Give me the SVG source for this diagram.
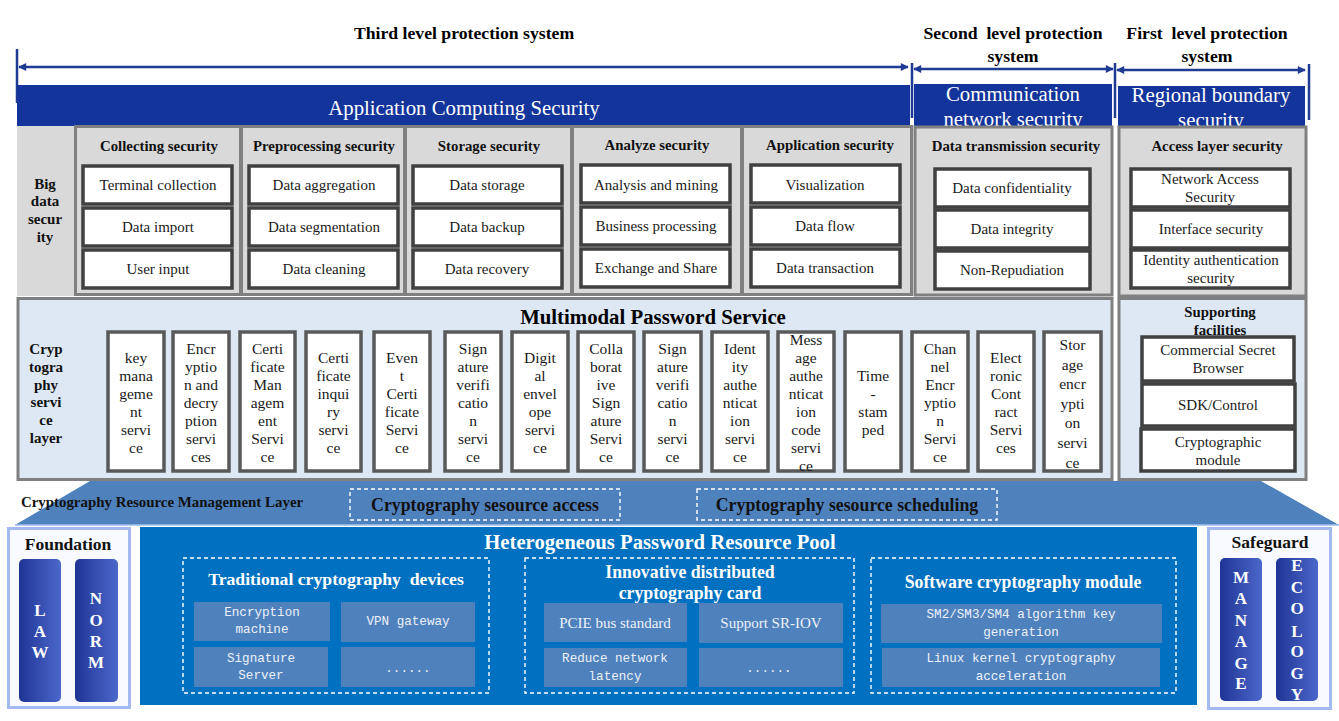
<svg xmlns="http://www.w3.org/2000/svg" width="1339" height="721" viewBox="0 0 1339 721">
<style>
text{font-family:"Liberation Serif","Times New Roman",serif;dominant-baseline:central;text-anchor:middle}
.hdr{font-size:17.7px;font-weight:bold;fill:#000}
.ban{font-size:20.8px;fill:#fff}
.cat{font-size:14.8px;font-weight:bold;fill:#111}
.lab{font-size:15px;font-weight:bold;fill:#111}
.panel{fill:#D9D9D9;stroke:#808080;stroke-width:3}
.cpanel{fill:#DEE8F4;stroke:#808080;stroke-width:3}
.box{fill:#fff;stroke:#404040;stroke-width:3.5}
.lbl{font-size:15px;fill:#1a1a1a}
.vbox{fill:#fff;stroke:#595959;stroke-width:3.5}
.vt{font-size:15.5px;fill:#1a1a1a}
.dash{fill:none;stroke:#fff;stroke-width:1.4;stroke-dasharray:4 3}
.sub{fill:#4F81BD}
.mono{font-family:"Liberation Mono","DejaVu Sans Mono",monospace;font-size:12.6px;fill:#EDF2FA}
.sv{font-size:15px;fill:#EDF2FA}
.wt{font-weight:bold;fill:#fff}
.pil{font-size:17px;font-weight:bold;fill:#fff}
.arr{stroke:#1F3A93;stroke-width:2.5;fill:none}
</style>
<defs>
<marker id="ah" viewBox="0 0 10 10" refX="9" refY="5" markerWidth="9" markerHeight="8" markerUnits="userSpaceOnUse" orient="auto-start-reverse">
<path d="M0,0 L10,5 L0,10 z" fill="#1F3A93"/>
</marker>
<linearGradient id="pg" x1="0" y1="0" x2="1" y2="0">
<stop offset="0" stop-color="#1F3596"/>
<stop offset="1" stop-color="#4B67CA"/>
</linearGradient>
</defs>
<rect width="1339" height="721" fill="#fff"/>

<g id="titles">
<text class="hdr" x="464" y="33">Third level protection system</text>
<text class="hdr" x="1013" y="33" xml:space="preserve">Second  level protection</text>
<text class="hdr" x="1013" y="56">system</text>
<text class="hdr" x="1207" y="33" xml:space="preserve">First  level protection</text>
<text class="hdr" x="1207" y="56">system</text>
</g>

<g id="connectors">
<line class="arr" x1="17" y1="49" x2="17" y2="103"/>
<line class="arr" x1="19" y1="67" x2="908" y2="67" marker-start="url(#ah)" marker-end="url(#ah)"/>
<line class="arr" x1="912" y1="63" x2="912" y2="118"/>
<line class="arr" x1="914" y1="69" x2="1113" y2="69" marker-start="url(#ah)" marker-end="url(#ah)"/>
<line class="arr" x1="1115" y1="63" x2="1115" y2="118"/>
<line class="arr" x1="1117" y1="70" x2="1305" y2="70" marker-start="url(#ah)" marker-end="url(#ah)"/>
<line class="arr" x1="1309" y1="64" x2="1309" y2="120"/>
</g>

<g id="banners">
<rect x="17" y="85" width="893" height="41" fill="#13349A"/>
<text class="ban" x="464" y="107">Application Computing Security</text>
<rect x="914" y="84" width="198" height="43" fill="#13349A"/>
<text class="ban" x="1013" y="93">Communication</text>
<text class="ban" x="1013" y="118">network security</text>
<rect x="1118" y="86" width="187" height="41" fill="#13349A"/>
<text class="ban" x="1211" y="94">Regional boundary</text>
<text class="ban" x="1211" y="119">security</text>
</g>

<g id="big-data-security">
<rect x="17" y="126" width="60" height="170" fill="#D9D9D9"/>
<text class="lab"><tspan x="45" y="184">Big</tspan><tspan x="45" y="201">data</tspan><tspan x="45" y="219">secur</tspan><tspan x="45" y="237">ity</tspan></text>
</g>

<g id="collecting">
<rect class="panel" x="75.5" y="126.5" width="165" height="168"/>
<text class="cat" x="159" y="146">Collecting security</text>
<rect class="box" x="83" y="166" width="149" height="38"/><text class="lbl" x="158" y="185">Terminal collection</text>
<rect class="box" x="83" y="208" width="149" height="38"/><text class="lbl" x="158" y="227">Data import</text>
<rect class="box" x="83" y="250" width="149" height="38"/><text class="lbl" x="158" y="269">User input</text>
</g>

<g id="preprocessing">
<rect class="panel" x="241.5" y="126.5" width="163" height="168"/>
<text class="cat" x="324" y="146">Preprocessing security</text>
<rect class="box" x="249" y="166" width="149" height="38"/><text class="lbl" x="324" y="185">Data aggregation</text>
<rect class="box" x="249" y="208" width="149" height="38"/><text class="lbl" x="324" y="227">Data segmentation</text>
<rect class="box" x="249" y="250" width="149" height="38"/><text class="lbl" x="324" y="269">Data cleaning</text>
</g>

<g id="storage">
<rect class="panel" x="405.5" y="126.5" width="166" height="168"/>
<text class="cat" x="489" y="146">Storage security</text>
<rect class="box" x="413" y="166" width="149" height="38"/><text class="lbl" x="487" y="185">Data storage</text>
<rect class="box" x="413" y="208" width="149" height="38"/><text class="lbl" x="487" y="227">Data backup</text>
<rect class="box" x="413" y="250" width="149" height="38"/><text class="lbl" x="487" y="269">Data recovery</text>
</g>

<g id="analyze">
<rect class="panel" x="572.5" y="126.5" width="169" height="168"/>
<text class="cat" x="657" y="145">Analyze security</text>
<rect class="box" x="581" y="165" width="149" height="38"/><text class="lbl" x="656" y="185">Analysis and mining</text>
<rect class="box" x="581" y="207" width="149" height="38"/><text class="lbl" x="656" y="226">Business processing</text>
<rect class="box" x="581" y="249" width="149" height="38"/><text class="lbl" x="656" y="268">Exchange and Share</text>
</g>

<g id="application">
<rect class="panel" x="742.5" y="126.5" width="169" height="168"/>
<text class="cat" x="830" y="145">Application security</text>
<rect class="box" x="751" y="165" width="149" height="38"/><text class="lbl" x="825" y="185">Visualization</text>
<rect class="box" x="751" y="207" width="149" height="38"/><text class="lbl" x="825" y="226">Data flow</text>
<rect class="box" x="751" y="249" width="149" height="38"/><text class="lbl" x="825" y="268">Data transaction</text>
</g>

<g id="data-transmission">
<rect class="panel" x="915" y="127" width="197" height="168"/>
<text class="cat" x="1016" y="146">Data transmission security</text>
<rect class="box" x="935" y="169" width="155" height="38"/><text class="lbl" x="1012" y="188">Data confidentiality</text>
<rect class="box" x="935" y="210" width="155" height="38"/><text class="lbl" x="1012" y="229">Data integrity</text>
<rect class="box" x="935" y="251" width="155" height="38"/><text class="lbl" x="1012" y="270">Non-Repudiation</text>
</g>

<g id="access-layer">
<rect class="panel" x="1119" y="127" width="187" height="169"/>
<text class="cat" x="1217" y="146">Access layer security</text>
<rect class="box" x="1131" y="169" width="159" height="38"/><text class="lbl"><tspan x="1210" y="179">Network Access</tspan><tspan x="1210" y="197">Security</tspan></text>
<rect class="box" x="1131" y="210" width="159" height="38"/><text class="lbl" x="1211" y="229">Interface security</text>
<rect class="box" x="1131" y="250" width="159" height="38"/><text class="lbl"><tspan x="1211" y="260">Identity authentication</tspan><tspan x="1211" y="278">security</tspan></text>
</g>

<g id="crypto-service-layer">
<rect class="cpanel" x="18" y="298.5" width="1094" height="181"/>
<text class="lab"><tspan x="46" y="349">Cryp</tspan><tspan x="46" y="367">togra</tspan><tspan x="46" y="385">phy</tspan><tspan x="46" y="402">servi</tspan><tspan x="46" y="420">ce</tspan><tspan x="46" y="438">layer</tspan></text>
<text x="653" y="316" style="font-size:20.8px;font-weight:bold;fill:#000">Multimodal Password Service</text>
</g>

<g id="svc-key"><rect class="vbox" x="108" y="332" width="56" height="139"/>
<text class="vt"><tspan x="136" y="357">key</tspan><tspan x="136" dy="18">mana</tspan><tspan x="136" dy="18">geme</tspan><tspan x="136" dy="18">nt</tspan><tspan x="136" dy="18">servi</tspan><tspan x="136" dy="18">ce</tspan></text></g>
<g id="svc-encdec"><rect class="vbox" x="173" y="332" width="56" height="139"/>
<text class="vt"><tspan x="201" y="348">Encr</tspan><tspan x="201" dy="18">yptio</tspan><tspan x="201" dy="18">n and</tspan><tspan x="201" dy="18">decry</tspan><tspan x="201" dy="18">ption</tspan><tspan x="201" dy="18">servi</tspan><tspan x="201" dy="18">ces</tspan></text></g>
<g id="svc-certmgmt"><rect class="vbox" x="240" y="332" width="55" height="139"/>
<text class="vt"><tspan x="267.5" y="348">Certi</tspan><tspan x="267.5" dy="18">ficate</tspan><tspan x="267.5" dy="18">Man</tspan><tspan x="267.5" dy="18">agem</tspan><tspan x="267.5" dy="18">ent</tspan><tspan x="267.5" dy="18">Servi</tspan><tspan x="267.5" dy="18">ce</tspan></text></g>
<g id="svc-certinq"><rect class="vbox" x="306" y="332" width="55" height="139"/>
<text class="vt"><tspan x="333.5" y="357">Certi</tspan><tspan x="333.5" dy="18">ficate</tspan><tspan x="333.5" dy="18">inqui</tspan><tspan x="333.5" dy="18">ry</tspan><tspan x="333.5" dy="18">servi</tspan><tspan x="333.5" dy="18">ce</tspan></text></g>
<g id="svc-event"><rect class="vbox" x="374" y="332" width="56" height="139"/>
<text class="vt"><tspan x="402" y="357">Even</tspan><tspan x="402" dy="18">t</tspan><tspan x="402" dy="18">Certi</tspan><tspan x="402" dy="18">ficate</tspan><tspan x="402" dy="18">Servi</tspan><tspan x="402" dy="18">ce</tspan></text></g>
<g id="svc-sigver1"><rect class="vbox" x="445" y="332" width="56" height="139"/>
<text class="vt"><tspan x="473" y="348">Sign</tspan><tspan x="473" dy="18">ature</tspan><tspan x="473" dy="18">verifi</tspan><tspan x="473" dy="18">catio</tspan><tspan x="473" dy="18">n</tspan><tspan x="473" dy="18">servi</tspan><tspan x="473" dy="18">ce</tspan></text></g>
<g id="svc-envelope"><rect class="vbox" x="512" y="332" width="56" height="139"/>
<text class="vt"><tspan x="540" y="357">Digit</tspan><tspan x="540" dy="18">al</tspan><tspan x="540" dy="18">envel</tspan><tspan x="540" dy="18">ope</tspan><tspan x="540" dy="18">servi</tspan><tspan x="540" dy="18">ce</tspan></text></g>
<g id="svc-collab"><rect class="vbox" x="578" y="332" width="56" height="139"/>
<text class="vt"><tspan x="606" y="348">Colla</tspan><tspan x="606" dy="18">borat</tspan><tspan x="606" dy="18">ive</tspan><tspan x="606" dy="18">Sign</tspan><tspan x="606" dy="18">ature</tspan><tspan x="606" dy="18">Servi</tspan><tspan x="606" dy="18">ce</tspan></text></g>
<g id="svc-sigver2"><rect class="vbox" x="644" y="332" width="57" height="139"/>
<text class="vt"><tspan x="672.5" y="348">Sign</tspan><tspan x="672.5" dy="18">ature</tspan><tspan x="672.5" dy="18">verifi</tspan><tspan x="672.5" dy="18">catio</tspan><tspan x="672.5" dy="18">n</tspan><tspan x="672.5" dy="18">servi</tspan><tspan x="672.5" dy="18">ce</tspan></text></g>
<g id="svc-identity"><rect class="vbox" x="712" y="332" width="56" height="139"/>
<text class="vt"><tspan x="740" y="348">Ident</tspan><tspan x="740" dy="18">ity</tspan><tspan x="740" dy="18">authe</tspan><tspan x="740" dy="18">nticat</tspan><tspan x="740" dy="18">ion</tspan><tspan x="740" dy="18">servi</tspan><tspan x="740" dy="18">ce</tspan></text></g>
<g id="svc-mac"><rect class="vbox" x="778" y="332" width="56" height="139"/>
<text class="vt"><tspan x="806" y="339">Mess</tspan><tspan x="806" dy="18">age</tspan><tspan x="806" dy="18">authe</tspan><tspan x="806" dy="18">nticat</tspan><tspan x="806" dy="18">ion</tspan><tspan x="806" dy="18">code</tspan><tspan x="806" dy="18">servi</tspan><tspan x="806" dy="18">ce</tspan></text></g>
<g id="svc-timestamp"><rect class="vbox" x="845" y="332" width="56" height="139"/>
<text class="vt"><tspan x="873" y="375">Time</tspan><tspan x="873" dy="18">-</tspan><tspan x="873" dy="18">stam</tspan><tspan x="873" dy="18">ped</tspan></text></g>
<g id="svc-channel"><rect class="vbox" x="912" y="332" width="56" height="139"/>
<text class="vt"><tspan x="940" y="348">Chan</tspan><tspan x="940" dy="18">nel</tspan><tspan x="940" dy="18">Encr</tspan><tspan x="940" dy="18">yptio</tspan><tspan x="940" dy="18">n</tspan><tspan x="940" dy="18">Servi</tspan><tspan x="940" dy="18">ce</tspan></text></g>
<g id="svc-contract"><rect class="vbox" x="978" y="332" width="56" height="139"/>
<text class="vt"><tspan x="1006" y="357">Elect</tspan><tspan x="1006" dy="18">ronic</tspan><tspan x="1006" dy="18">Cont</tspan><tspan x="1006" dy="18">ract</tspan><tspan x="1006" dy="18">Servi</tspan><tspan x="1006" dy="18">ces</tspan></text></g>
<g id="svc-storage"><rect class="vbox" x="1044" y="332" width="57" height="139"/>
<text class="vt"><tspan x="1072.5" y="344">Stor</tspan><tspan x="1072.5" dy="19.6">age</tspan><tspan x="1072.5" dy="19.6">encr</tspan><tspan x="1072.5" dy="19.6">ypti</tspan><tspan x="1072.5" dy="19.6">on</tspan><tspan x="1072.5" dy="19.6">servi</tspan><tspan x="1072.5" dy="19.6">ce</tspan></text></g>

<g id="supporting-facilities">
<rect class="cpanel" x="1119" y="298.5" width="187" height="181"/>
<text class="cat"><tspan x="1220" y="312">Supporting</tspan><tspan x="1220" y="330">facilities</tspan></text>
<rect class="box" x="1142" y="337" width="152" height="44"/><text class="lbl"><tspan x="1218" y="350">Commercial Secret</tspan><tspan x="1218" y="368">Browser</tspan></text>
<rect class="box" x="1142" y="384" width="153" height="42"/><text class="lbl" x="1218" y="405">SDK/Control</text>
<rect class="box" x="1141" y="429" width="154" height="42"/><text class="lbl"><tspan x="1218" y="442">Cryptographic</tspan><tspan x="1218" y="460">module</tspan></text>
</g>

<g id="resource-management">
<polygon points="90,481 1261,481 1339,525 15,525" fill="#4F81BD"/>
<line x1="15" y1="525" x2="1339" y2="525" stroke="#9CC0EC" stroke-width="1.5"/>
<text x="162" y="502" style="font-size:14.9px;font-weight:bold;fill:#111">Cryptography Resource Management Layer</text>
<rect class="dash" x="350" y="489" width="270" height="31"/>
<text x="485" y="505" style="font-size:17.8px;font-weight:bold;fill:#111">Cryptography sesource access</text>
<rect class="dash" x="697" y="489" width="300" height="31"/>
<text x="847" y="505" style="font-size:17.8px;font-weight:bold;fill:#111">Cryptography sesource scheduling</text>
</g>

<g id="foundation">
<rect x="8.5" y="528.5" width="121" height="179" fill="#F8FAFF" stroke="#A3BAF0" stroke-width="3"/>
<text x="68" y="544" style="font-size:17.5px;font-weight:bold;fill:#111">Foundation</text>
<rect x="19" y="559" width="42" height="143" rx="5" fill="url(#pg)"/>
<text class="pil"><tspan x="40" y="610">L</tspan><tspan x="40" y="631">A</tspan><tspan x="40" y="652">W</tspan></text>
<rect x="75" y="559" width="43" height="143" rx="5" fill="url(#pg)"/>
<text class="pil"><tspan x="96" y="598">N</tspan><tspan x="96" y="620">O</tspan><tspan x="96" y="641">R</tspan><tspan x="96" y="662">M</tspan></text>
</g>

<g id="resource-pool">
<rect x="140" y="527" width="1057" height="178" fill="#0070C0"/>
<text class="wt" x="660" y="542" style="font-size:20.7px">Heterogeneous Password Resource Pool</text>
</g>

<g id="traditional-devices">
<rect class="dash" x="183" y="558" width="306" height="135"/>
<text class="wt" x="336" y="579" style="font-size:17.7px" xml:space="preserve">Traditional cryptography  devices</text>
<rect class="sub" x="194" y="602" width="136" height="39"/><text class="mono"><tspan x="262" y="613">Encryption</tspan><tspan x="262" y="630">machine</tspan></text>
<rect class="sub" x="341" y="602" width="134" height="40"/><text class="mono" x="408" y="622">VPN gateway</text>
<rect class="sub" x="194" y="647" width="134" height="40"/><text class="mono"><tspan x="261" y="659">Signature</tspan><tspan x="261" y="676">Server</tspan></text>
<rect class="sub" x="341" y="647" width="134" height="40"/><text class="mono" x="408" y="669">......</text>
</g>

<g id="distributed-card">
<rect class="dash" x="525" y="558" width="329" height="135"/>
<text class="wt" style="font-size:17.8px"><tspan x="690" y="572">Innovative distributed</tspan><tspan x="690" y="593">cryptography card</tspan></text>
<rect class="sub" x="544" y="603" width="143" height="39"/><text class="sv" x="615" y="623">PCIE bus standard</text>
<rect class="sub" x="699" y="603" width="144" height="40"/><text class="sv" x="771" y="623">Support SR-IOV</text>
<rect class="sub" x="544" y="648" width="143" height="39"/><text class="mono"><tspan x="615" y="659">Reduce network</tspan><tspan x="615" y="677">latency</tspan></text>
<rect class="sub" x="699" y="648" width="144" height="39"/><text class="mono" x="769" y="669">......</text>
</g>

<g id="software-module">
<rect class="dash" x="871" y="558" width="305" height="135"/>
<text class="wt" x="1023" y="582" style="font-size:17.8px">Software cryptography module</text>
<rect class="sub" x="881" y="604" width="281" height="39"/><text class="mono"><tspan x="1021" y="615">SM2/SM3/SM4 algorithm key</tspan><tspan x="1021" y="633">generation</tspan></text>
<rect class="sub" x="882" y="648" width="278" height="39"/><text class="mono"><tspan x="1021" y="659">Linux kernel cryptography</tspan><tspan x="1021" y="677">acceleration</tspan></text>
</g>

<g id="safeguard">
<rect x="1208.5" y="528.5" width="122" height="180" fill="#F8FAFF" stroke="#A3BAF0" stroke-width="3"/>
<text x="1270" y="542" style="font-size:17.5px;font-weight:bold;fill:#111">Safeguard</text>
<rect x="1220" y="558" width="42" height="143" rx="5" fill="url(#pg)"/>
<text class="pil"><tspan x="1241" y="577">M</tspan><tspan x="1241" y="598">A</tspan><tspan x="1241" y="620">N</tspan><tspan x="1241" y="641">A</tspan><tspan x="1241" y="663">G</tspan><tspan x="1241" y="683">E</tspan></text>
<rect x="1276" y="558" width="42" height="143" rx="5" fill="url(#pg)"/>
<text class="pil"><tspan x="1297" y="565">E</tspan><tspan x="1297" y="587">C</tspan><tspan x="1297" y="608">O</tspan><tspan x="1297" y="631">L</tspan><tspan x="1297" y="651">O</tspan><tspan x="1297" y="673">G</tspan><tspan x="1297" y="694">Y</tspan></text>
</g>
</svg>
